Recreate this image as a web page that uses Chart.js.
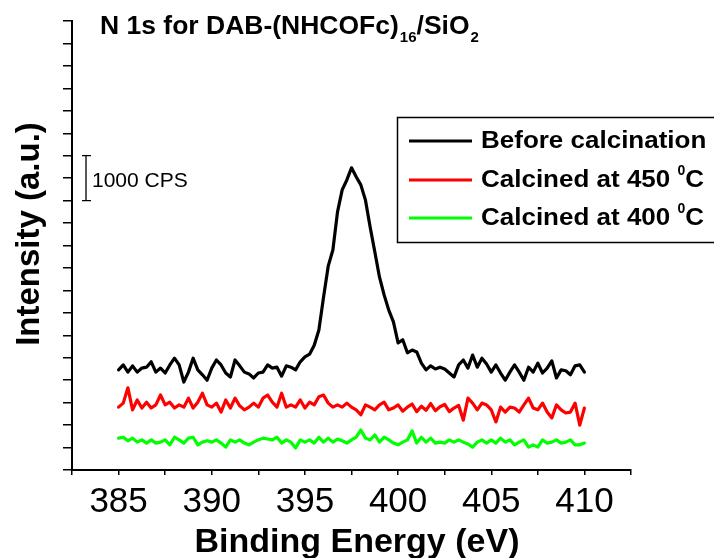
<!DOCTYPE html>
<html>
<head>
<meta charset="utf-8">
<title>N 1s XPS</title>
<script src="https://cdn.jsdelivr.net/npm/chart.js@4.4.1/dist/chart.umd.min.js"></script>
<style>
  html, body { margin: 0; padding: 0; background: #fff; }
  canvas { display: block; }
</style>
</head>
<body>
<canvas id="xpsChart" width="714" height="558"></canvas>
<script>
// Binding energy grid (eV), 0.25 eV steps
const energy = [
  385, 385.25, 385.5, 385.75, 386, 386.25, 386.5, 386.75, 387, 387.25,
  387.5, 387.75, 388, 388.25, 388.5, 388.75, 389, 389.25, 389.5, 389.75,
  390, 390.25, 390.5, 390.75, 391, 391.25, 391.5, 391.75, 392, 392.25,
  392.5, 392.75, 393, 393.25, 393.5, 393.75, 394, 394.25, 394.5, 394.75,
  395, 395.25, 395.5, 395.75, 396, 396.25, 396.5, 396.75, 397, 397.25,
  397.5, 397.75, 398, 398.25, 398.5, 398.75, 399, 399.25, 399.5, 399.75,
  400, 400.25, 400.5, 400.75, 401, 401.25, 401.5, 401.75, 402, 402.25,
  402.5, 402.75, 403, 403.25, 403.5, 403.75, 404, 404.25, 404.5, 404.75,
  405, 405.25, 405.5, 405.75, 406, 406.25, 406.5, 406.75, 407, 407.25,
  407.5, 407.75, 408, 408.25, 408.5, 408.75, 409, 409.25, 409.5, 409.75,
  410
];

// Intensities in CPS (curves are stacked with offsets)
const beforeCalcination = [
  2230, 2340, 2180, 2320, 2180, 2270, 2290, 2410, 2180, 2270,
  2160, 2340, 2490, 2340, 1960, 2180, 2490, 2230, 2120, 2000,
  2270, 2450, 2340, 2160, 2070, 2450, 2320, 2180, 2140, 2050,
  2160, 2180, 2340, 2270, 2290, 2090, 2320, 2290, 2230, 2410,
  2520, 2580, 2780, 3120, 3850, 4540, 4900, 5750, 6240, 6460,
  6730, 6530, 6350, 6010, 5410, 4860, 4300, 3900, 3560, 3300,
  2830, 2900, 2610, 2670, 2630, 2380, 2230, 2320, 2250, 2290,
  2250, 2160, 2070, 2340, 2450, 2270, 2560, 2290, 2490, 2360,
  2180, 2340, 2160, 2000, 2180, 2340, 2180, 2000, 2290, 2180,
  2380, 2160, 2270, 2430, 2050, 2230, 2210, 2120, 2320, 2340,
  2180
];

const calcined450 = [
  1400, 1490, 1830, 1340, 1560, 1380, 1510, 1380, 1450, 1670,
  1450, 1510, 1380, 1450, 1400, 1600, 1380, 1510, 1710, 1450,
  1400, 1490, 1290, 1560, 1380, 1600, 1430, 1340, 1400, 1490,
  1400, 1600, 1670, 1510, 1400, 1710, 1400, 1450, 1400, 1560,
  1380, 1510, 1450, 1630, 1670, 1490, 1400, 1450, 1400, 1490,
  1400, 1340, 1230, 1450, 1400, 1340, 1450, 1510, 1340, 1380,
  1450, 1310, 1400, 1470, 1300, 1420, 1330, 1480, 1320, 1410,
  1460, 1300, 1380, 1440, 1110, 1600, 1490, 1340, 1490, 1450,
  1340, 1070, 1400, 1290, 1400, 1380, 1290, 1450, 1600, 1380,
  1340, 1490, 1290, 1160, 1450, 1340, 1270, 1290, 1490, 1000,
  1380
];

const calcined400 = [
  710, 730, 650, 710, 620, 670, 600, 670, 600, 620,
  670, 560, 730, 670, 600, 710, 730, 560, 620, 650,
  620, 670, 600, 510, 670, 620, 670, 600, 560, 620,
  670, 710, 690, 670, 730, 600, 670, 620, 490, 670,
  620, 670, 600, 730, 620, 710, 620, 690, 650, 600,
  670, 730, 890, 710, 670, 780, 620, 730, 670, 600,
  560, 620, 670, 870, 600, 730, 620, 710, 600, 620,
  600, 670, 620, 670, 620, 580, 510, 620, 670, 600,
  670, 600, 710, 620, 670, 560, 620, 670, 510, 560,
  510, 670, 600, 620, 670, 600, 620, 670, 560, 560,
  600
];

const seriesLabels = ['Before calcination', 'Calcined at 450', 'Calcined at 400'];
const seriesColors = ['#000000', '#ff0000', '#00ff00'];
const xTickLabels = [385, 390, 395, 400, 405, 410];
const scaleBarCps = 1000;

const FONT = '"Liberation Sans", Arial, Helvetica, sans-serif';

function toPoints(values) {
  return values.map((v, i) => ({ x: energy[i], y: v }));
}

// draws text with a horizontal stretch, returns the x where it ends
function stretchText(ctx, str, x, y, font, sx) {
  ctx.save();
  ctx.font = font;
  ctx.textAlign = 'left';
  ctx.textBaseline = 'alphabetic';
  ctx.translate(x, y);
  ctx.scale(sx, 1);
  ctx.fillText(str, 0, 0);
  const w = ctx.measureText(str).width * sx;
  ctx.restore();
  return x + w;
}

const decorations = {
  id: 'decorations',
  afterDraw(chart) {
    const ctx = chart.ctx;
    const yScale = chart.scales.y;
    ctx.save();
    ctx.fillStyle = '#000';
    ctx.strokeStyle = '#000';

    // title with subscripts
    let x = stretchText(ctx, 'N 1s for DAB-(NHCOFc)', 100, 34, 'bold 25px ' + FONT, 1.06);
    x = stretchText(ctx, '16', x + 1, 42, 'bold 15px ' + FONT, 1.0);
    x = stretchText(ctx, '/SiO', x, 34, 'bold 25px ' + FONT, 1.06);
    stretchText(ctx, '2', x + 1, 42, 'bold 15px ' + FONT, 1.0);

    // 1000 CPS scale bar, placed on the intensity scale
    const barX = 86;
    const yTop = yScale.getPixelForValue(7000);
    const yBot = yScale.getPixelForValue(7000 - scaleBarCps);
    ctx.lineWidth = 1.3;
    ctx.beginPath();
    ctx.moveTo(barX, yTop); ctx.lineTo(barX, yBot);
    ctx.moveTo(barX - 4, yTop); ctx.lineTo(barX + 5, yTop);
    ctx.moveTo(barX - 4, yBot); ctx.lineTo(barX + 5, yBot);
    ctx.stroke();
    ctx.font = '21px ' + FONT;
    ctx.textAlign = 'left';
    ctx.textBaseline = 'alphabetic';
    ctx.fillText(scaleBarCps + ' CPS', 92, 187);

    // legend box
    ctx.lineWidth = 1.5;
    ctx.strokeRect(397.5, 117.5, 330, 125);
    const rows = [148, 187, 225];
    chart.data.datasets.forEach((ds, i) => {
      const cy = rows[i] - 7;
      ctx.strokeStyle = ds.borderColor;
      ctx.lineWidth = 3;
      ctx.beginPath();
      ctx.moveTo(409, cy);
      ctx.lineTo(472, cy);
      ctx.stroke();
      let tx = stretchText(ctx, ds.label, 481, rows[i], 'bold 23px ' + FONT, 1.13);
      if (i > 0) {
        tx = stretchText(ctx, ' ', tx, rows[i], 'bold 23px ' + FONT, 1.13);
        tx = stretchText(ctx, '0', tx, rows[i] - 12, 'bold 14px ' + FONT, 1.0);
        stretchText(ctx, 'C', tx, rows[i], 'bold 23px ' + FONT, 1.13);
      }
    });

    // axis titles
    ctx.fillStyle = '#000';
    ctx.font = 'bold 34px ' + FONT;
    ctx.textAlign = 'center';
    ctx.textBaseline = 'alphabetic';
    ctx.fillText('Binding Energy (eV)', 357, 552);

    ctx.translate(39, 234);
    ctx.rotate(-Math.PI / 2);
    ctx.font = 'bold 33px ' + FONT;
    ctx.fillText('Intensity (a.u.)', 0, 0);
    ctx.restore();
  }
};

const ctxEl = document.getElementById('xpsChart');

new Chart(ctxEl, {
  type: 'line',
  data: {
    datasets: [beforeCalcination, calcined450, calcined400].map((vals, i) => ({
      label: seriesLabels[i],
      data: toPoints(vals),
      borderColor: seriesColors[i],
      backgroundColor: seriesColors[i],
      borderWidth: 3.2,
      borderJoinStyle: 'round',
      borderCapStyle: 'round',
      pointRadius: 0,
      tension: 0,
      fill: false
    }))
  },
  options: {
    responsive: false,
    animation: false,
    layout: { padding: { top: 21, right: 83, left: 0, bottom: 0 } },
    plugins: {
      legend: { display: false },
      tooltip: { enabled: false }
    },
    scales: {
      x: {
        type: 'linear',
        min: 382.5,
        max: 412.5,
        afterFit: (s) => { s.height = 88; },
        ticks: {
          stepSize: 2.5,
          autoSkip: false,
          maxRotation: 0,
          padding: 10,
          color: '#000',
          font: { family: FONT, size: 35, lineHeight: 1 },
          callback: (v) => (xTickLabels.includes(v) ? String(v) : '')
        },
        grid: { drawOnChartArea: false, drawTicks: true, tickLength: 5, color: '#000', lineWidth: 1.5 },
        border: { color: '#000', width: 2 }
      },
      y: {
        min: 0,
        max: 10000,
        afterFit: (s) => { s.width = 72; },
        ticks: {
          stepSize: 500,
          font: { size: 10 },
          callback: () => ''
        },
        grid: { drawOnChartArea: false, drawTicks: true, tickLength: 9, color: '#000', lineWidth: 1.5 },
        border: { color: '#000', width: 2 }
      }
    }
  },
  plugins: [decorations]
});
</script>
</body>
</html>
